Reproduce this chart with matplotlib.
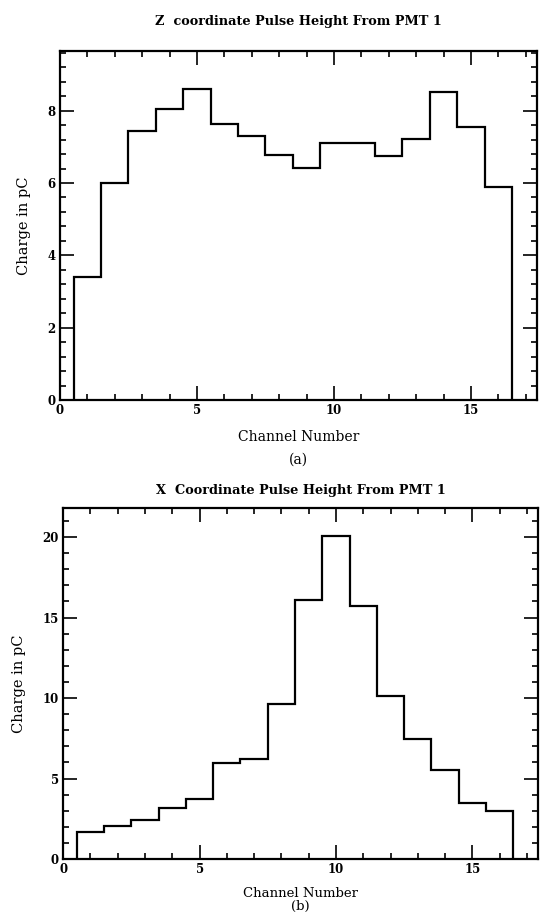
import matplotlib
matplotlib.use("Agg")
import matplotlib.pyplot as plt
import numpy as np
from matplotlib.ticker import MultipleLocator

# channel numbers and pulse heights
channels = [1, 2, 3, 4, 5, 6, 7, 8, 9, 10, 11, 12, 13, 14, 15, 16]
z_charge = [3.4, 6.0, 7.45, 8.05, 8.6, 7.62, 7.3, 6.77, 6.41, 7.12,
            7.12, 6.76, 7.21, 8.51, 7.54, 5.88]
x_charge = [1.7, 2.07, 2.45, 3.17, 3.7, 5.96, 6.2, 9.6, 16.1, 20.05,
            15.73, 10.14, 7.45, 5.55, 3.45, 2.96]

titles = ["Z  coordinate Pulse Height From PMT 1",
          "X  Coordinate Pulse Height From PMT 1"]
panel_tags = ["(a)", "(b)"]

plt.rcParams['font.family'] = ['DejaVu Serif']

fig = plt.figure(figsize=(5.4, 9.16), dpi=100)
ax1 = fig.add_axes([0.111, 0.5633, 0.883, 0.381])
ax2 = fig.add_axes([0.117, 0.0622, 0.879, 0.3832])

edges = np.append(np.array(channels) - 0.5, channels[-1] + 0.5)


def style(ax, ymax, ymajor, yminor):
    ax.set_xlim(0, 17.4)
    ax.set_ylim(0, ymax)
    ax.xaxis.set_major_locator(MultipleLocator(5))
    ax.xaxis.set_minor_locator(MultipleLocator(1))
    ax.yaxis.set_major_locator(MultipleLocator(ymajor))
    ax.yaxis.set_minor_locator(MultipleLocator(yminor))
    ax.tick_params(which='both', direction='in', top=True, right=True,
                   width=1.2, labelsize=8.5, pad=3)
    ax.tick_params(which='major', length=10)
    ax.tick_params(which='minor', length=4)
    for lab in ax.get_xticklabels() + ax.get_yticklabels():
        lab.set_fontweight('bold')
    for s in ax.spines.values():
        s.set_linewidth(1.6)


# (a) Z coordinate
ax1.stairs(z_charge, edges, baseline=0, color='black', lw=1.6)
style(ax1, 9.65, 2, 0.4)
ax1.set_title(titles[0], fontsize=9.3, pad=19, fontweight='semibold')
ax1.set_ylabel("Charge in pC", fontsize=10.5, labelpad=12)
ax1.set_xlabel("Channel Number\n" + panel_tags[0], fontsize=10, labelpad=9,
               linespacing=1.8)

# (b) X coordinate
ax2.stairs(x_charge, edges, baseline=0, color='black', lw=1.6)
style(ax2, 21.8, 5, 1)
ax2.set_title(titles[1], fontsize=9.3, pad=10, fontweight='semibold')
ax2.set_ylabel("Charge in pC", fontsize=10.5, labelpad=12)
ax2.set_xlabel("Channel Number\n" + panel_tags[1], fontsize=9.5, labelpad=8,
               linespacing=0.95)

fig.savefig("out.png", dpi=100)
